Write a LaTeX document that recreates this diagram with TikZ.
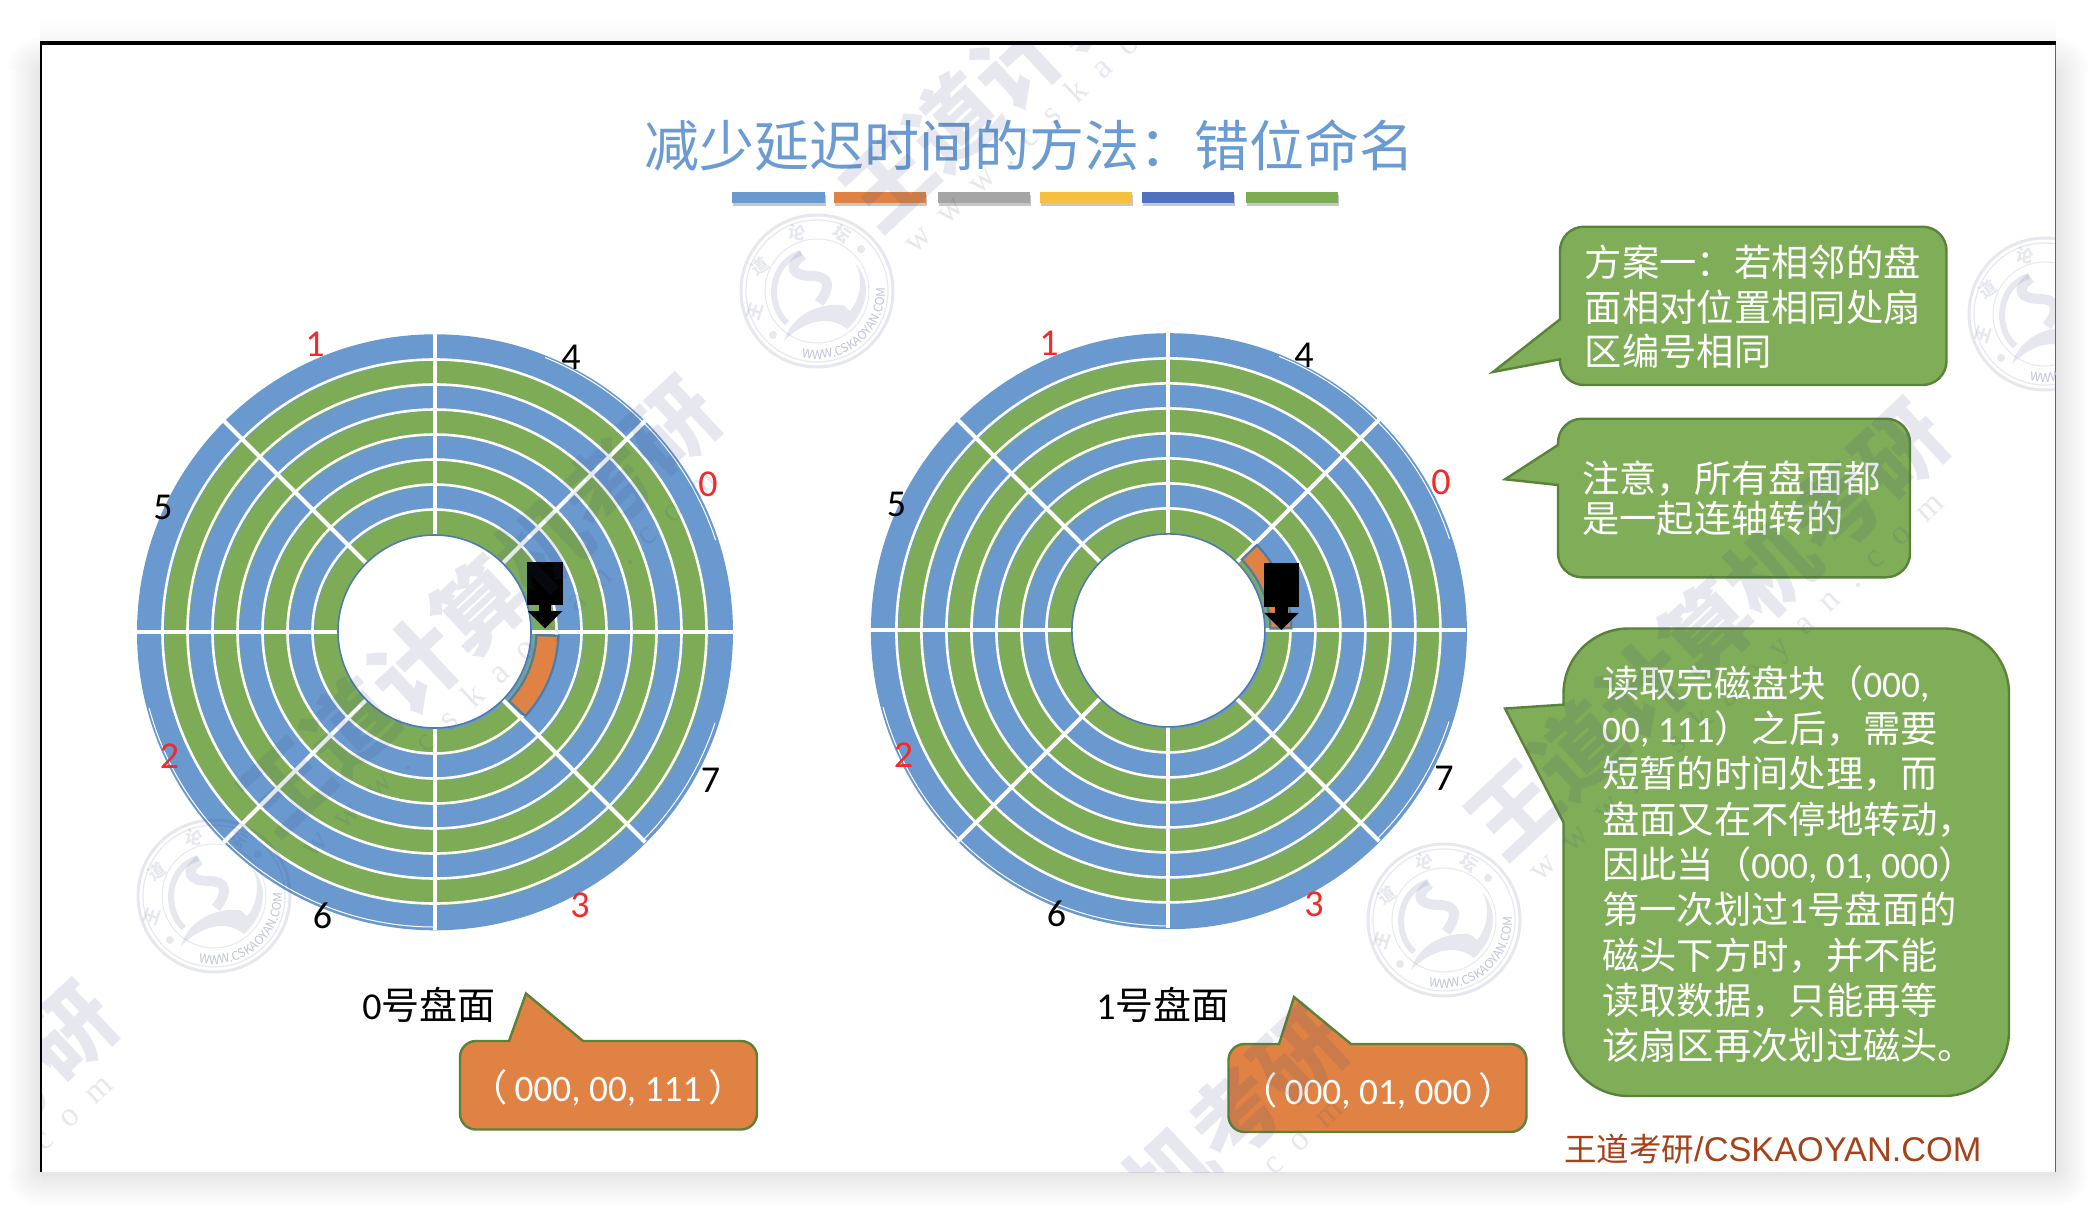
\documentclass[tikz,border=0pt]{standalone}
\usepackage{fontspec}
\usetikzlibrary{decorations.text}
\setmainfont{Noto Sans CJK SC}
\newfontfamily\lat{Carlito}
\newfontfamily\ari{Liberation Sans}
\newfontfamily\serspaced{Liberation Serif}[LetterSpace=55]
\definecolor{dblue}{HTML}{6A99CF}
\definecolor{dgreen}{HTML}{7EAC56}
\definecolor{cgreen}{HTML}{7FAD58}
\definecolor{cedge}{HTML}{5A8339}
\definecolor{corange}{HTML}{DF8244}
\definecolor{sedge}{HTML}{4F7BA8}
\definecolor{ttl}{HTML}{6A9BD3}
\definecolor{foot}{HTML}{A5421A}
\definecolor{wmc}{HTML}{3A4A80}
\definecolor{shd}{HTML}{E6E6E6}
\definecolor{redlabel}{HTML}{F42A2A}
\newcommand{\fs}[1]{\fontsize{#1}{#1}\selectfont}
\newcommand{\nm}[1]{{\lat #1}}
\newcommand{\leftcall}[9]{% style x0 y0 x1 y1 r tipx tipy j1 ; j2 follows
  \def\lcA{#1}\def\lcB{#2}\def\lcC{#3}\def\lcD{#4}\def\lcE{#5}\def\lcF{#6}\def\lcG{#7}\def\lcH{#8}\def\lcI{#9}\leftcallB}
\newcommand{\leftcallB}[1]{%
  \draw[\lcA] (\lcG,\lcH) -- (\lcB,\lcI) -- (\lcB,\lcC+\lcF)
   arc[start angle=180,end angle=270,radius=\lcF] -- (\lcD-\lcF,\lcC)
   arc[start angle=270,end angle=360,radius=\lcF] -- (\lcD,\lcE-\lcF)
   arc[start angle=0,end angle=90,radius=\lcF] -- (\lcB+\lcF,\lcE)
   arc[start angle=90,end angle=180,radius=\lcF] -- (\lcB,#1) -- cycle;}
\newcommand{\topcall}[9]{%
  \def\lcA{#1}\def\lcB{#2}\def\lcC{#3}\def\lcD{#4}\def\lcE{#5}\def\lcF{#6}\def\lcG{#7}\def\lcH{#8}\def\lcI{#9}\topcallB}
\newcommand{\topcallB}[1]{%
  \draw[\lcA] (\lcG,\lcH) -- (#1,\lcC) -- (\lcD-\lcF,\lcC)
   arc[start angle=270,end angle=360,radius=\lcF] -- (\lcD,\lcE-\lcF)
   arc[start angle=0,end angle=90,radius=\lcF] -- (\lcB+\lcF,\lcE)
   arc[start angle=90,end angle=180,radius=\lcF] -- (\lcB,\lcC+\lcF)
   arc[start angle=180,end angle=270,radius=\lcF] -- (\lcI,\lcC) -- cycle;}
\newcommand{\platter}[2]{%
  \fill[dblue] (#1+0.5,#2+0.8) circle (298);
  \foreach \ro in {272,222,172,122}{
    \fill[dgreen,even odd rule] (#1+2,#2+1.5) circle (\ro) (#1+2,#2+1.5) circle (\ro-25);
  }
  \foreach \rr in {272,247,222,197,172,147,122}{
    \draw[ringline] (#1,#2) circle (\rr);
  }
  \draw[thinring] (#1,#2) ++(-68:295.5) arc[start angle=-68,end angle=-18,radius=295.5];
  \draw[thinring] (#1,#2) ++(18:295) arc[start angle=18,end angle=45,radius=295];
  \draw[thinring] (#1,#2) ++(90:295.5) arc[start angle=90,end angle=165,radius=295.5];
  \foreach \a in {0,45,...,315}{
    \draw[spoke] (#1,#2) ++(\a:96) -- ++(\a:202);
  }
}
\newcommand{\hub}[2]{\draw[hubline] (#1,#2) circle (96.5);}
\newcommand{\sector}[5]{%
  \draw[secstyle] (#1,#2) ++(#3:102) arc[start angle=#3,end angle=#4,radius=102]
   -- ++(#4:#5) arc[start angle=#4,end angle=#3,radius=102+#5] -- cycle;}
\newcommand{\diskhead}[3]{% x left, y top, y tip
  \fill[black] (#1,#2) rectangle (#1+35.5,#2+43.5);
  \fill[black] (#1+11.5,#2+43.5) rectangle (#1+24,#2+50);
  \fill[black] (#1+0.5,#2+49.5) -- (#1+35,#2+49.5) -- (#1+17.7,#3) -- cycle;}
\newcommand{\wbig}[2]{%
  \node[wmtext,rotate=43] at (#1+25,#2+5) {王道计算机考研};
  \node[wmweb,rotate=43] at (#1+56,#2+64) {www.cskaoyan.com};}
\newcommand{\wseal}[2]{%
  \begin{scope}[shift={(#1,#2)}]
    \draw[wmline,line width=3] (0,0) circle (76);
    \draw[wmline,line width=1.2] (0,0) circle (71);
    \draw[wmline,line width=1] (0,0) circle (52);
    \draw[wmline,line width=6] (-16,-38) .. controls (-48,-28) and (-50,15) .. (-30,32);
    \fill[wmfill] (-33,50) .. controls (-25,22) and (5,12) .. (24,14)
       .. controls (28,14) and (30,18) .. (33,20)
       .. controls (46,5) and (45,-18) .. (38,-28)
       .. controls (55,-10) and (52,18) .. (30,38)
       .. controls (10,22) and (-15,32) .. (-33,50) -- cycle;
    \draw[wmline,line width=10] (-14,-36) .. controls (-30,-25) and (-25,-15) .. (-5,-15)
       .. controls (12,-15) and (15,-5) .. (2,12);
    \fill[wmfill] (-44,44) circle (4);
    \fill[wmfill] (44,-42) circle (4);
    \node[wmsmall,rotate=72] at (-62,20) {王};
    \node[wmsmall,rotate=35] at (-57,-25) {道};
    \node[wmsmall,rotate=-10] at (-20,-58) {论};
    \node[wmsmall,rotate=-35] at (25,-57) {坛};
    \path[decorate,decoration={text along path,text align=center,
      text={|\fs{12}\color{wmc!32}|WWW.CSKAOYAN.COM}}]
      (0,0) ++(125:68) arc[start angle=125,end angle=-25,radius=68];
  \end{scope}}
\tikzset{
  x=1pt,y=-1pt,
  ringline/.style={white,line width=2.6},
  thinring/.style={white,line width=1},
  spoke/.style={white,line width=4},
  hubline/.style={draw=sedge,fill=white,line width=1.6},
  secstyle/.style={draw=sedge,fill=corange,line width=2.2},
  numblack/.style={font=\lat\fs{38},text=black,inner sep=0},
  numred/.style={font=\lat\fs{38},text=redlabel,inner sep=0},
  greencall/.style={fill=cgreen,draw=cedge,line width=2.4},
  orangecall/.style={fill=corange,draw=cedge,line width=2.4},
  calltext/.style={text=white,inner sep=0,align=left,anchor=west},
  wmtext/.style={text=wmc,text opacity=.12,font=\bfseries\fs{88},inner sep=0},
  wmweb/.style={text=wmc,text opacity=.12,font=\serspaced\fs{34},inner sep=0},
  wmline/.style={draw=wmc,draw opacity=.12},
  wmfill/.style={fill=wmc,fill opacity=.12},
  wmsmall/.style={text=wmc,text opacity=.12,font=\bfseries\fs{17},inner sep=0},
}
\begin{document}
\begin{tikzpicture}
\useasboundingbox (0,0) rectangle (2096,1212);
% slide shadow
\shade[left color=white,right color=shd,draw=none] (8,70) rectangle (40,1172);
\shade[left color=shd,right color=white,draw=none] (2056,70) rectangle (2088,1172);
\shade[top color=shd,bottom color=white,draw=none] (40,1172) rectangle (2056,1206);
\shade[top color=white,bottom color=shd!35,draw=none] (70,18) rectangle (2026,41);
% shadow corners, as rings fading outward
\foreach \cx/\cy/\xa/\ya/\xb/\yb/\rmax in {40/1172/6/1172/40/1208/33,2056/1172/2056/1172/2090/1208/33,40/70/6/18/70/70/33,2056/70/2026/18/2090/70/33}{
  \begin{scope}
    \clip (\xa,\ya) rectangle (\xb,\yb);
    \foreach \r/\m in {33/8,30/16,27/24,24/32,21/40,18/48,15/56,12/64,9/72,6/80,3/90}{
      \fill[shd!\m!white] (\cx,\cy) circle (\r);
    }
  \end{scope}
}
\foreach \xa/\xb in {40/70,2026/2056}{
  \shade[top color=white,bottom color=shd!35,draw=none] (\xa,18) rectangle (\xb,41);
}
% slide
\fill[white] (40,43) rectangle (2056,1172);
\draw[black,line width=2.4] (41,43) -- (41,1172);
\draw[black!60,line width=1.6] (2055.5,43) -- (2055.5,1172);
\draw[black,line width=4] (40,43) -- (2056,43);
% title
\node[inner sep=0,text=ttl,font=\fs{55}] (title) at (1029,145) {减少延迟时间的方法：错位命名};
\foreach \xa/\xb/\c in {732/825/6A99CF,833.8/926/DF8244,938/1030/A5A5A5,1040.4/1131.7/F5C040,1142/1233.8/4F71BE,1246/1338/7EAC55}{
  \fill[black!22] (\xa+1,194.5) rectangle (\xb+1,206);
  \definecolor{barc}{HTML}{\c}
  \fill[barc] (\xa,191.7) rectangle (\xb,203.3);
}
% platters
\platter{434.5}{631.5}
\sector{434.5}{631.5}{2}{43}{22}
\hub{434.5}{631.5}
\diskhead{527.3}{561.7}{628.3}
\platter{1168.4}{630.4}
\sector{1168.4}{630.4}{-44}{-1}{21}
\hub{1168.4}{630.4}
\diskhead{1263.7}{563.3}{630}
% labels
\node[numred] (a1) at (315,344) {1};
\node[numblack] (a4) at (571,357.6) {4};
\node[numred] (a0) at (708,484) {0};
\node[numblack] (a5) at (163,507) {5};
\node[numred] (a2) at (169.5,756) {2};
\node[numblack] (a7) at (710.5,780) {7};
\node[numred] (a3) at (580,905) {3};
\node[numblack] (a6) at (322.6,915.5) {6};
\node[numred] (b1) at (1049,343) {1};
\node[numblack] (b4) at (1304,355.6) {4};
\node[numred] (b0) at (1441,482) {0};
\node[numblack] (b5) at (896.4,504.7) {5};
\node[numred] (b2) at (903.5,755) {2};
\node[numblack] (b7) at (1444,778.7) {7};
\node[numred] (b3) at (1314,904.4) {3};
\node[numblack] (b6) at (1056.5,914) {6};
\node[inner sep=0,font=\fs{38}] (cap0) at (429,1005) {\nm{0}号盘面};
\node[inner sep=0,font=\fs{38}] (cap1) at (1163,1005) {\nm{1}号盘面};
% callouts
\topcall{orangecall}{460}{1041}{757}{1129.5}{16}{526}{993.5}{509}{583}
\topcall{orangecall}{1228.5}{1044}{1526.5}{1132}{16}{1294}{997}{1279}{1351}
\node[inner sep=0,text=white,font=\fs{37.3}] (o0) at (608,1088) {（\hskip7pt\nm{000, 00, 111}\hskip7pt）};
\node[inner sep=0,text=white,font=\fs{37.3}] (o1) at (1378,1091) {（\hskip7pt\nm{000, 01, 000}\hskip7pt）};
\leftcall{greencall}{1560}{226.7}{1946.5}{385}{24}{1493}{372}{319.3}{359.3}
\node[calltext,font=\fontsize{37.3}{44.5}\selectfont] (c1) at (1584.7,307) {方案一：若相邻的盘\\面相对位置相同处扇\\区编号相同};
\leftcall{greencall}{1558}{418.7}{1910}{577.3}{24}{1505}{479.3}{445}{485}
\node[calltext,font=\fontsize{37.3}{40}\selectfont] (c2) at (1582,498) {注意，所有盘面都\\是一起连轴转的};
\leftcall{greencall}{1563.5}{628.5}{2009}{1096}{65}{1505}{708.5}{704.6}{822.5}
\node[calltext,font=\fontsize{37.3}{45.3}\selectfont] (c3) at (1602,864) {读取完磁盘块（\nm{000,}\\
\nm{00, 111}）之后，需要\\
短暂的时间处理，而\\
盘面又在不停地转动，\\
因此当（\nm{000, 01, 000}）\\
第一次划过\nm{1}号盘面的\\
磁头下方时，并不能\\
读取数据，只能再等\\
该扇区再次划过磁头。};
\node[inner sep=0,anchor=west,text=foot,font=\fs{32.5}] (foot) at (1564,1149) {王道考研{\ari\fs{34.3}/CSKAOYAN.COM}};
% watermark overlay
\begin{scope}
\clip (42,45) rectangle (2055,1172);
\wbig{454}{601}
\wbig{1081}{1230}
\wbig{1682}{624}
\wbig{1057}{-4}
\wbig{-149}{1206}
\wseal{817}{291}
\wseal{214}{896}
\wseal{1444}{920}
\wseal{2045}{314}
\end{scope}
\end{tikzpicture}
\end{document}
